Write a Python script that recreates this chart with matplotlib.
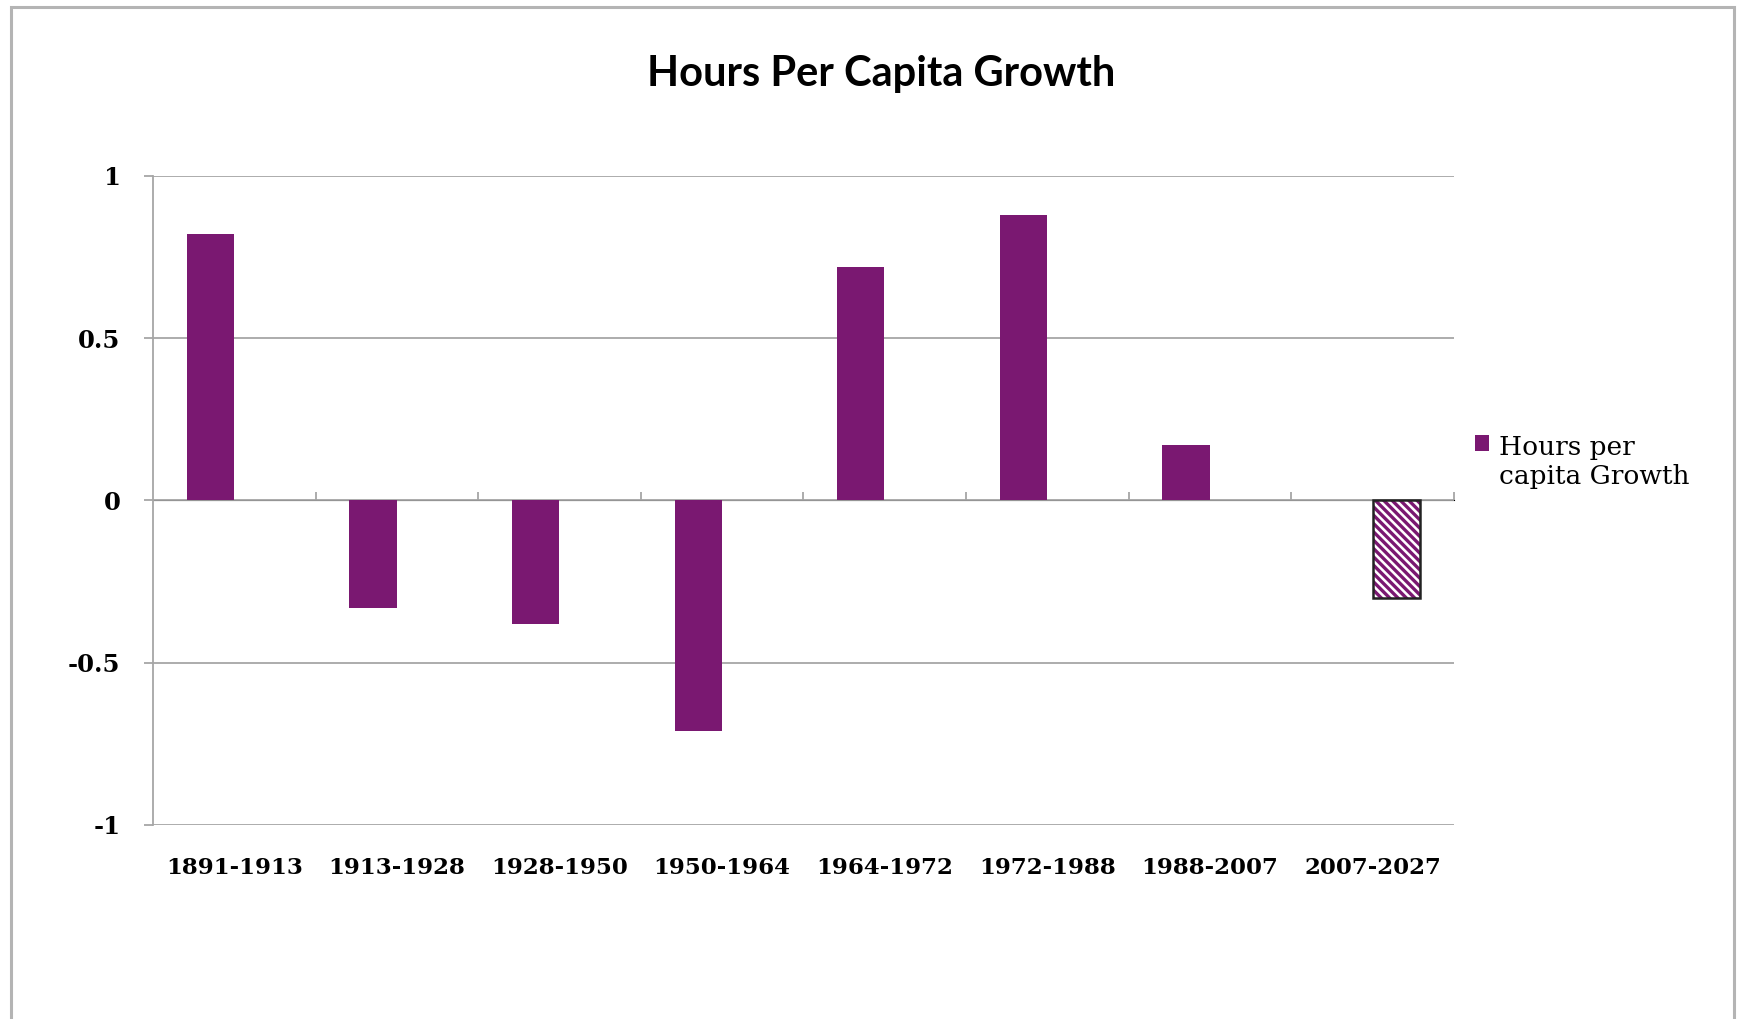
import matplotlib
matplotlib.use('Agg')
import matplotlib.pyplot as plt
from matplotlib.patches import Rectangle
from matplotlib.container import BarContainer
from matplotlib.legend_handler import HandlerPatch, update_from_first_child

# data
periods = ['1891-1913', '1913-1928', '1928-1950', '1950-1964',
           '1964-1972', '1972-1988', '1988-2007', '2007-2027']
growth = [0.82, -0.33, -0.38, -0.71, 0.72, 0.88, 0.17, -0.30]
projected = [False, False, False, False, False, False, False, True]
yticks = [-1, -0.5, 0, 0.5, 1]
ytick_labels = ['-1', '-0.5', '0', '0.5', '1']

purple = '#7a1871'
gridc = '#a6a6a6'

fig = plt.figure(figsize=(17.39, 10.19), dpi=100)
ax = fig.add_axes([0.088, 0.1904, 0.748, 0.6369])

x = list(range(len(periods)))
bw = 0.29
off = 0.147
actual_x = [i - off for i, p in zip(x, projected) if not p]
actual_y = [g for g, p in zip(growth, projected) if not p]
proj_x = [i + off for i, p in zip(x, projected) if p]
proj_y = [g for g, p in zip(growth, projected) if p]

ax.bar(actual_x, actual_y, width=bw, color=purple, label='Hours per\ncapita Growth', zorder=3)
plt.rcParams['hatch.linewidth'] = 2.4
ax.bar(proj_x, proj_y, width=bw, color='white', edgecolor=purple, hatch='\\\\\\\\', linewidth=0, zorder=3)
ax.bar(proj_x, proj_y, width=bw, fill=False, edgecolor='#222222', linewidth=1.8, zorder=4)

ax.set_xlim(-0.5, len(periods) - 0.5)
ax.set_ylim(-1, 1)
ax.set_yticks(yticks)
ax.set_yticklabels(ytick_labels)
ax.yaxis.grid(True, color=gridc, linewidth=1.3, zorder=0)

for s in ['top', 'right', 'bottom']:
    ax.spines[s].set_visible(False)
ax.spines['left'].set_color(gridc)
ax.spines['left'].set_linewidth(1.3)

ax.tick_params(axis='y', length=6.5, color=gridc, width=1.3, pad=17)
ax.set_xticks(x)
ax.set_xticklabels(periods)
ax.tick_params(axis='x', length=0, pad=23)

for lab in ax.get_xticklabels():
    lab.set_fontfamily('DejaVu Serif')
    lab.set_fontweight('bold')
    lab.set_fontsize(16.5)
for lab in ax.get_yticklabels():
    lab.set_fontfamily('DejaVu Serif')
    lab.set_fontweight('bold')
    lab.set_fontsize(17.5)

# category axis drawn at zero
zax = ax.secondary_xaxis(0.5)
zax.set_xticks([i + 0.5 for i in x])
zax.set_xticklabels([])
zax.tick_params(axis='x', direction='out', length=6, color=gridc, width=1.3)
zax.spines['bottom'].set_color(gridc)
zax.spines['bottom'].set_linewidth(1.3)

fig.text(0.507, 0.9277, 'Hours Per Capita Growth', ha='center', va='center',
         fontfamily='Lato', fontweight='bold', fontsize=30)


# legend square sits beside the first line of the label
def top_square(legend, orig_handle, xdescent, ydescent, width, height, fontsize):
    return Rectangle((-xdescent, -ydescent + 14), width, height)


ax.legend(loc='center left', bbox_to_anchor=(0.8405, 0.5465), bbox_transform=fig.transFigure,
          frameon=False, prop={'family': 'DejaVu Serif', 'size': 19},
          handlelength=0.55, handleheight=0.55, handletextpad=0.35, borderpad=0,
          handler_map={BarContainer: HandlerPatch(patch_func=top_square,
                                                  update_func=update_from_first_child)})

# outer chart frame
fig.patches.append(Rectangle((11 / 1739, -0.05), 1723 / 1739, 1.05 - 7 / 1019,
                             transform=fig.transFigure, fill=False,
                             edgecolor='#b4b4b4', linewidth=2.2))

fig.savefig('out.png', dpi=100)
